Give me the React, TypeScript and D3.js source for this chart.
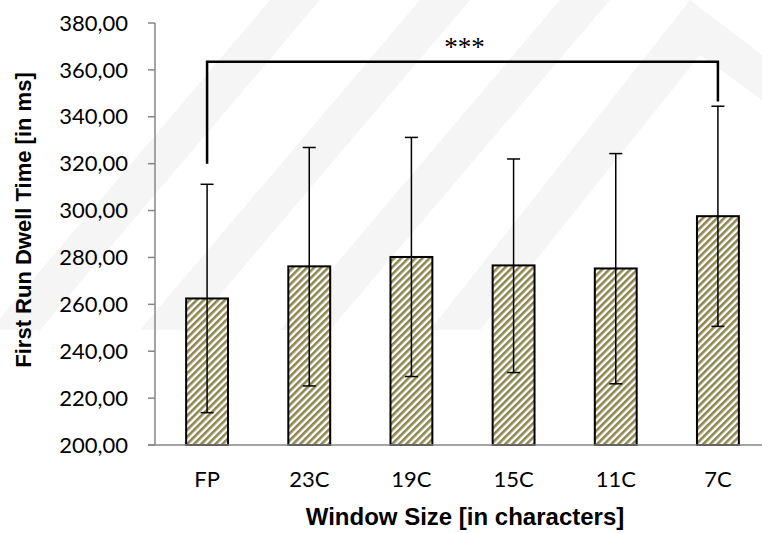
import React, { useEffect, useRef } from 'react';
import * as d3 from 'd3';

const categories = ['FP', '23C', '19C', '15C', '11C', '7C'];
const means = [262.5, 276.2, 280.2, 276.6, 275.3, 297.6];
const upper = [311.2, 326.9, 331.2, 322.0, 324.3, 344.5];
const lower = [213.8, 225.2, 229.2, 230.9, 226.1, 250.6];
const yTicks = [200, 220, 240, 260, 280, 300, 320, 340, 360, 380];
const bracket = { from: 'FP', to: '7C', leftStart: 320, rightStart: 346.5, top: 363.5, label: '***' };

const width = 762;
const height = 533;

function App() {
  const ref = useRef<SVGSVGElement>(null);

  useEffect(() => {
    const svg = d3.select(ref.current);
    svg.selectAll('*').remove();

    const x = d3
      .scaleBand()
      .domain(categories)
      .range([156, 769])
      .paddingInner(0.59)
      .paddingOuter(0.295);
    const y = d3.scaleLinear().domain([200, 380]).range([445, 23]);

    // stripe pattern like the excel fill
    const defs = svg.append('defs');
    const pat = defs
      .append('pattern')
      .attr('id', 'stripes')
      .attr('patternUnits', 'userSpaceOnUse')
      .attr('width', 5)
      .attr('height', 5)
      .attr('patternTransform', 'rotate(45)');
    pat.append('rect').attr('width', 5).attr('height', 5).attr('fill', '#ffffff');
    pat.append('rect').attr('width', 2.6).attr('height', 5).attr('fill', '#8f8550');

    // faint watermark bands
    const wm = svg.append('g').attr('fill', '#f5f5f5');
    [270, 420, 560].forEach((sx) => {
      wm.append('path').attr('d', `M${sx},0 L${sx + 50},0 L${sx - 230},330 L${sx - 280},330 Z`);
    });
    wm.append('path').attr('d', 'M690,0 L762,55 L762,100 L700,55 L480,330 L430,330 Z');

    // y axis
    const yAxis = svg.append('g').attr('transform', 'translate(155,0)');
    yAxis
      .append('line')
      .attr('y1', y(200))
      .attr('y2', y(380))
      .attr('stroke', '#868686')
      .attr('stroke-width', 1.5);
    yAxis
      .selectAll('.tick')
      .data(yTicks)
      .join('line')
      .attr('x1', -7)
      .attr('x2', 0)
      .attr('y1', (d) => y(d))
      .attr('y2', (d) => y(d))
      .attr('stroke', '#868686')
      .attr('stroke-width', 1.5);
    svg
      .append('g')
      .selectAll('text')
      .data(yTicks)
      .join('text')
      .attr('x', 128)
      .attr('y', (d) => y(d))
      .attr('dy', '0.35em')
      .attr('text-anchor', 'end')
      .style('font-family', 'Lato, "Open Sans", sans-serif')
      .style('font-size', '22px')
      .attr('fill', '#000')
      .text((d) => d.toFixed(2).replace('.', ','));

    // bars
    svg
      .append('g')
      .selectAll('rect')
      .data(categories)
      .join('rect')
      .attr('x', (d) => x(d)!)
      .attr('width', x.bandwidth())
      .attr('y', (_, i) => y(means[i]))
      .attr('height', (_, i) => y(200) - y(means[i]))
      .attr('fill', 'url(#stripes)')
      .attr('stroke', '#000')
      .attr('stroke-width', 2);

    // x baseline
    svg
      .append('line')
      .attr('x1', 148)
      .attr('x2', width)
      .attr('y1', y(200))
      .attr('y2', y(200))
      .attr('stroke', '#868686')
      .attr('stroke-width', 1.5);

    // error bars
    const err = svg.append('g').attr('stroke', '#000').attr('stroke-width', 1.5);
    categories.forEach((c, i) => {
      const cx = x(c)! + x.bandwidth() / 2;
      err.append('line').attr('x1', cx).attr('x2', cx).attr('y1', y(lower[i])).attr('y2', y(upper[i]));
      [lower[i], upper[i]].forEach((v) => {
        err.append('line').attr('x1', cx - 6.5).attr('x2', cx + 6.5).attr('y1', y(v)).attr('y2', y(v));
      });
    });

    // x labels
    svg
      .append('g')
      .selectAll('text')
      .data(categories)
      .join('text')
      .attr('x', (d) => x(d)! + x.bandwidth() / 2)
      .attr('y', 487)
      .attr('text-anchor', 'middle')
      .style('font-family', 'Lato, "Open Sans", sans-serif')
      .style('font-size', '22px')
      .attr('fill', '#000')
      .text((d) => d);

    // significance bracket
    const bx1 = x(bracket.from)! + x.bandwidth() / 2;
    const bx2 = x(bracket.to)! + x.bandwidth() / 2;
    svg
      .append('path')
      .attr(
        'd',
        `M${bx1},${y(bracket.leftStart)} L${bx1},${y(bracket.top)} L${bx2},${y(bracket.top)} L${bx2},${y(bracket.rightStart)}`
      )
      .attr('fill', 'none')
      .attr('stroke', '#000')
      .attr('stroke-width', 2.5);
    svg
      .append('text')
      .attr('x', (bx1 + bx2) / 2 + 2)
      .attr('y', y(bracket.top) - 6)
      .attr('text-anchor', 'middle')
      .style('font-family', '"Liberation Serif", "DejaVu Serif", serif')
      .style('font-size', '27px')
      .attr('fill', '#000')
      .text(bracket.label);

    // axis titles
    svg
      .append('text')
      .attr('transform', `translate(31,220) rotate(-90)`)
      .attr('text-anchor', 'middle')
      .style('font-family', '"Liberation Sans", Arial, sans-serif')
      .style('font-weight', 'bold')
      .style('font-size', '22px')
      .attr('fill', '#000')
      .text('First Run Dwell Time [in ms]');
    svg
      .append('text')
      .attr('x', 465)
      .attr('y', 525)
      .attr('text-anchor', 'middle')
      .style('font-family', '"Liberation Sans", Arial, sans-serif')
      .style('font-weight', 'bold')
      .style('font-size', '24px')
      .attr('fill', '#000')
      .text('Window Size [in characters]');
  }, []);

  return (
    <div style={{ position: 'absolute', left: 0, top: 0 }}>
      <svg ref={ref} width={width} height={height} style={{ display: 'block', background: '#fff' }} />
    </div>
  );
}

export default App;
